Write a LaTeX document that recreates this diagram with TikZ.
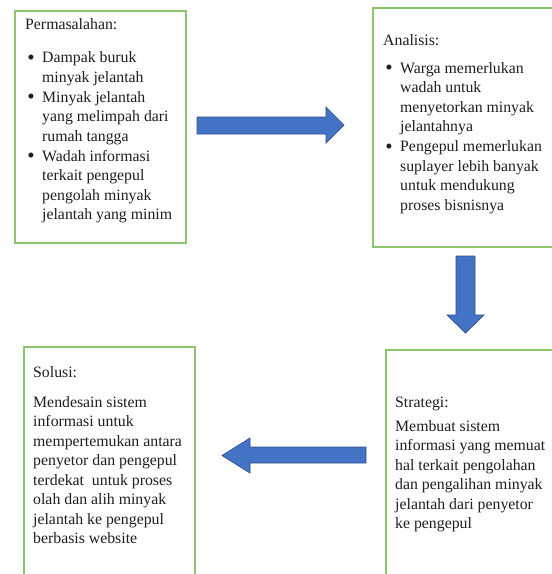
\documentclass[tikz,border=0pt]{standalone}
\usepackage{fontspec}
\setmainfont{Liberation Serif}
\usepackage{enumitem}
\usetikzlibrary{positioning}
\definecolor{boxgreen}{HTML}{8DC56C}
\definecolor{arrowblue}{HTML}{4472C4}
\definecolor{arrowedge}{HTML}{2F528F}
\definecolor{white}{HTML}{ffffff}

\newlist{poin}{itemize}{1}
\setlist[poin]{label={\raisebox{-1.8pt}{\fontsize{21}{19.5}\selectfont\textbullet}}, leftmargin=17pt, labelsep=7.5pt, partopsep=0pt, parsep=0pt, itemsep=0.5pt}

\begin{document}
\begin{tikzpicture}[x=1pt, y=-1pt,
    box/.style={draw=boxgreen, line width=1.6pt, inner sep=0pt, anchor=north west},
    txt/.style={inner sep=0pt, anchor=base west, text=black!88, font=\fontsize{15.8}{19.5}\selectfont},
    blockarrow/.style={fill=arrowblue, draw=arrowedge, line width=0.7pt, line join=miter}]
  \useasboundingbox[fill=white] (0,0) rectangle (552,574);

  % kotak
  \node[box, minimum width=171pt, minimum height=232pt] (masalah) at (14,10) {};
  \node[box, minimum width=185pt, minimum height=239pt] (analisis) at (372,7) {};
  \node[box, minimum width=171pt, minimum height=240pt] (solusi) at (23,346) {};
  \node[box, minimum width=180pt, minimum height=240pt] (strategi) at (385,349) {};

  % isi kotak
  \node[txt] (masalahtxt) at (25,29) {\parbox[t]{170pt}{Permasalahan:\par
    \begin{poin}[topsep=14pt]
      \item Dampak buruk\newline minyak jelantah
      \item Minyak jelantah\newline yang melimpah dari\newline rumah tangga
      \item Wadah informasi\newline terkait pengepul\newline pengolah minyak\newline jelantah yang minim
    \end{poin}}};
  \node[txt] (analisistxt) at (383,45) {\parbox[t]{170pt}{Analisis:\par
    \begin{poin}[topsep=8.5pt]
      \item Warga memerlukan\newline wadah untuk\newline menyetorkan minyak\newline jelantahnya
      \item Pengepul memerlukan\newline suplayer lebih banyak\newline untuk mendukung\newline proses bisnisnya
    \end{poin}}};
  \node[txt] (strategitxt) at (395,407) {\parbox[t]{170pt}{Strategi:\par\vspace{4.5pt}
    Membuat sistem\\ informasi yang memuat\\ hal terkait pengolahan\\ dan pengalihan minyak\\ jelantah dari penyetor\\ ke pengepul}};
  \node[txt] (solusitxt) at (33,377) {\parbox[t]{170pt}{Solusi:\par\vspace{10.5pt}
    Mendesain sistem\\ informasi untuk\\ mempertemukan antara\\ penyetor dan pengepul\\ terdekat\ \ untuk proses\\ olah dan alih minyak\\ jelantah ke pengepul\\ berbasis website}};

  % panah blok
  \draw[blockarrow] (197,117) -- (326,117) -- (326,107) -- (344,125) -- (326,143) -- (326,134) -- (197,134) -- cycle;
  \draw[blockarrow] (456,256) -- (475,256) -- (475,315) -- (484,315) -- (465.5,333) -- (447,315) -- (456,315) -- cycle;
  \draw[blockarrow] (366,447) -- (250,447) -- (250,438) -- (222,455.5) -- (250,473) -- (250,463) -- (366,463) -- cycle;
\end{tikzpicture}
\end{document}
